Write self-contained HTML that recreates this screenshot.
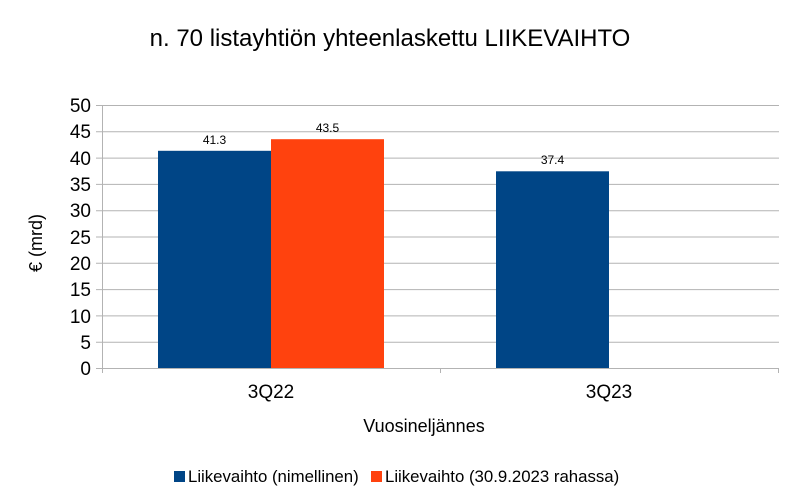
<!DOCTYPE html>
<html><head><meta charset="utf-8"><style>body{margin:0;background:#fff}svg{display:block}text{font-family:"Liberation Sans",sans-serif;fill:#000}</style></head><body>
<svg width="795" height="492" viewBox="0 0 795 492" xmlns="http://www.w3.org/2000/svg">
<text x="390" y="46" font-size="24" text-anchor="middle">n. 70 listayhtiön yhteenlaskettu LIIKEVAIHTO</text>
<g stroke="#b3b3b3" stroke-width="1">
<line x1="96" y1="105.5" x2="779" y2="105.5"/>
<line x1="96" y1="131.8" x2="779" y2="131.8"/>
<line x1="96" y1="158.1" x2="779" y2="158.1"/>
<line x1="96" y1="184.4" x2="779" y2="184.4"/>
<line x1="96" y1="210.7" x2="779" y2="210.7"/>
<line x1="96" y1="237" x2="779" y2="237"/>
<line x1="96" y1="263.3" x2="779" y2="263.3"/>
<line x1="96" y1="289.6" x2="779" y2="289.6"/>
<line x1="96" y1="315.9" x2="779" y2="315.9"/>
<line x1="96" y1="342.2" x2="779" y2="342.2"/>
<line x1="102.5" y1="105" x2="102.5" y2="373"/>
<line x1="440.5" y1="368" x2="440.5" y2="373"/>
<line x1="778.5" y1="368" x2="778.5" y2="373"/>
</g>
<rect x="158" y="150.8" width="113" height="217.2" fill="#004586"/>
<rect x="271" y="139.2" width="113" height="228.8" fill="#ff420e"/>
<rect x="496" y="171.3" width="113" height="196.7" fill="#004586"/>
<line x1="96" y1="368.5" x2="779" y2="368.5" stroke="#b3b3b3" stroke-width="1"/>
<g font-size="12" text-anchor="middle">
<text x="214.5" y="144">41.3</text>
<text x="327.5" y="132">43.5</text>
<text x="552.5" y="164">37.4</text>
</g>
<g font-size="19" text-anchor="end">
<text x="91" y="112">50</text>
<text x="91" y="138">45</text>
<text x="91" y="165">40</text>
<text x="91" y="191">35</text>
<text x="91" y="217">30</text>
<text x="91" y="244">25</text>
<text x="91" y="270">20</text>
<text x="91" y="296">15</text>
<text x="91" y="323">10</text>
<text x="91" y="349">5</text>
<text x="91" y="375">0</text>
</g>
<text x="271" y="398" font-size="19" text-anchor="middle">3Q22</text>
<text x="609" y="398" font-size="19" text-anchor="middle">3Q23</text>
<text x="424" y="432" font-size="18" text-anchor="middle">Vuosineljännes</text>
<text transform="translate(42,243) rotate(-90)" font-size="18" text-anchor="middle">€ (mrd)</text>
<rect x="174" y="471" width="11" height="11" fill="#004586"/>
<text x="188" y="482" font-size="16.8">Liikevaihto (nimellinen)</text>
<rect x="371" y="471" width="11" height="11" fill="#ff420e"/>
<text x="385" y="482" font-size="16.8">Liikevaihto (30.9.2023 rahassa)</text>
</svg>
</body></html>
